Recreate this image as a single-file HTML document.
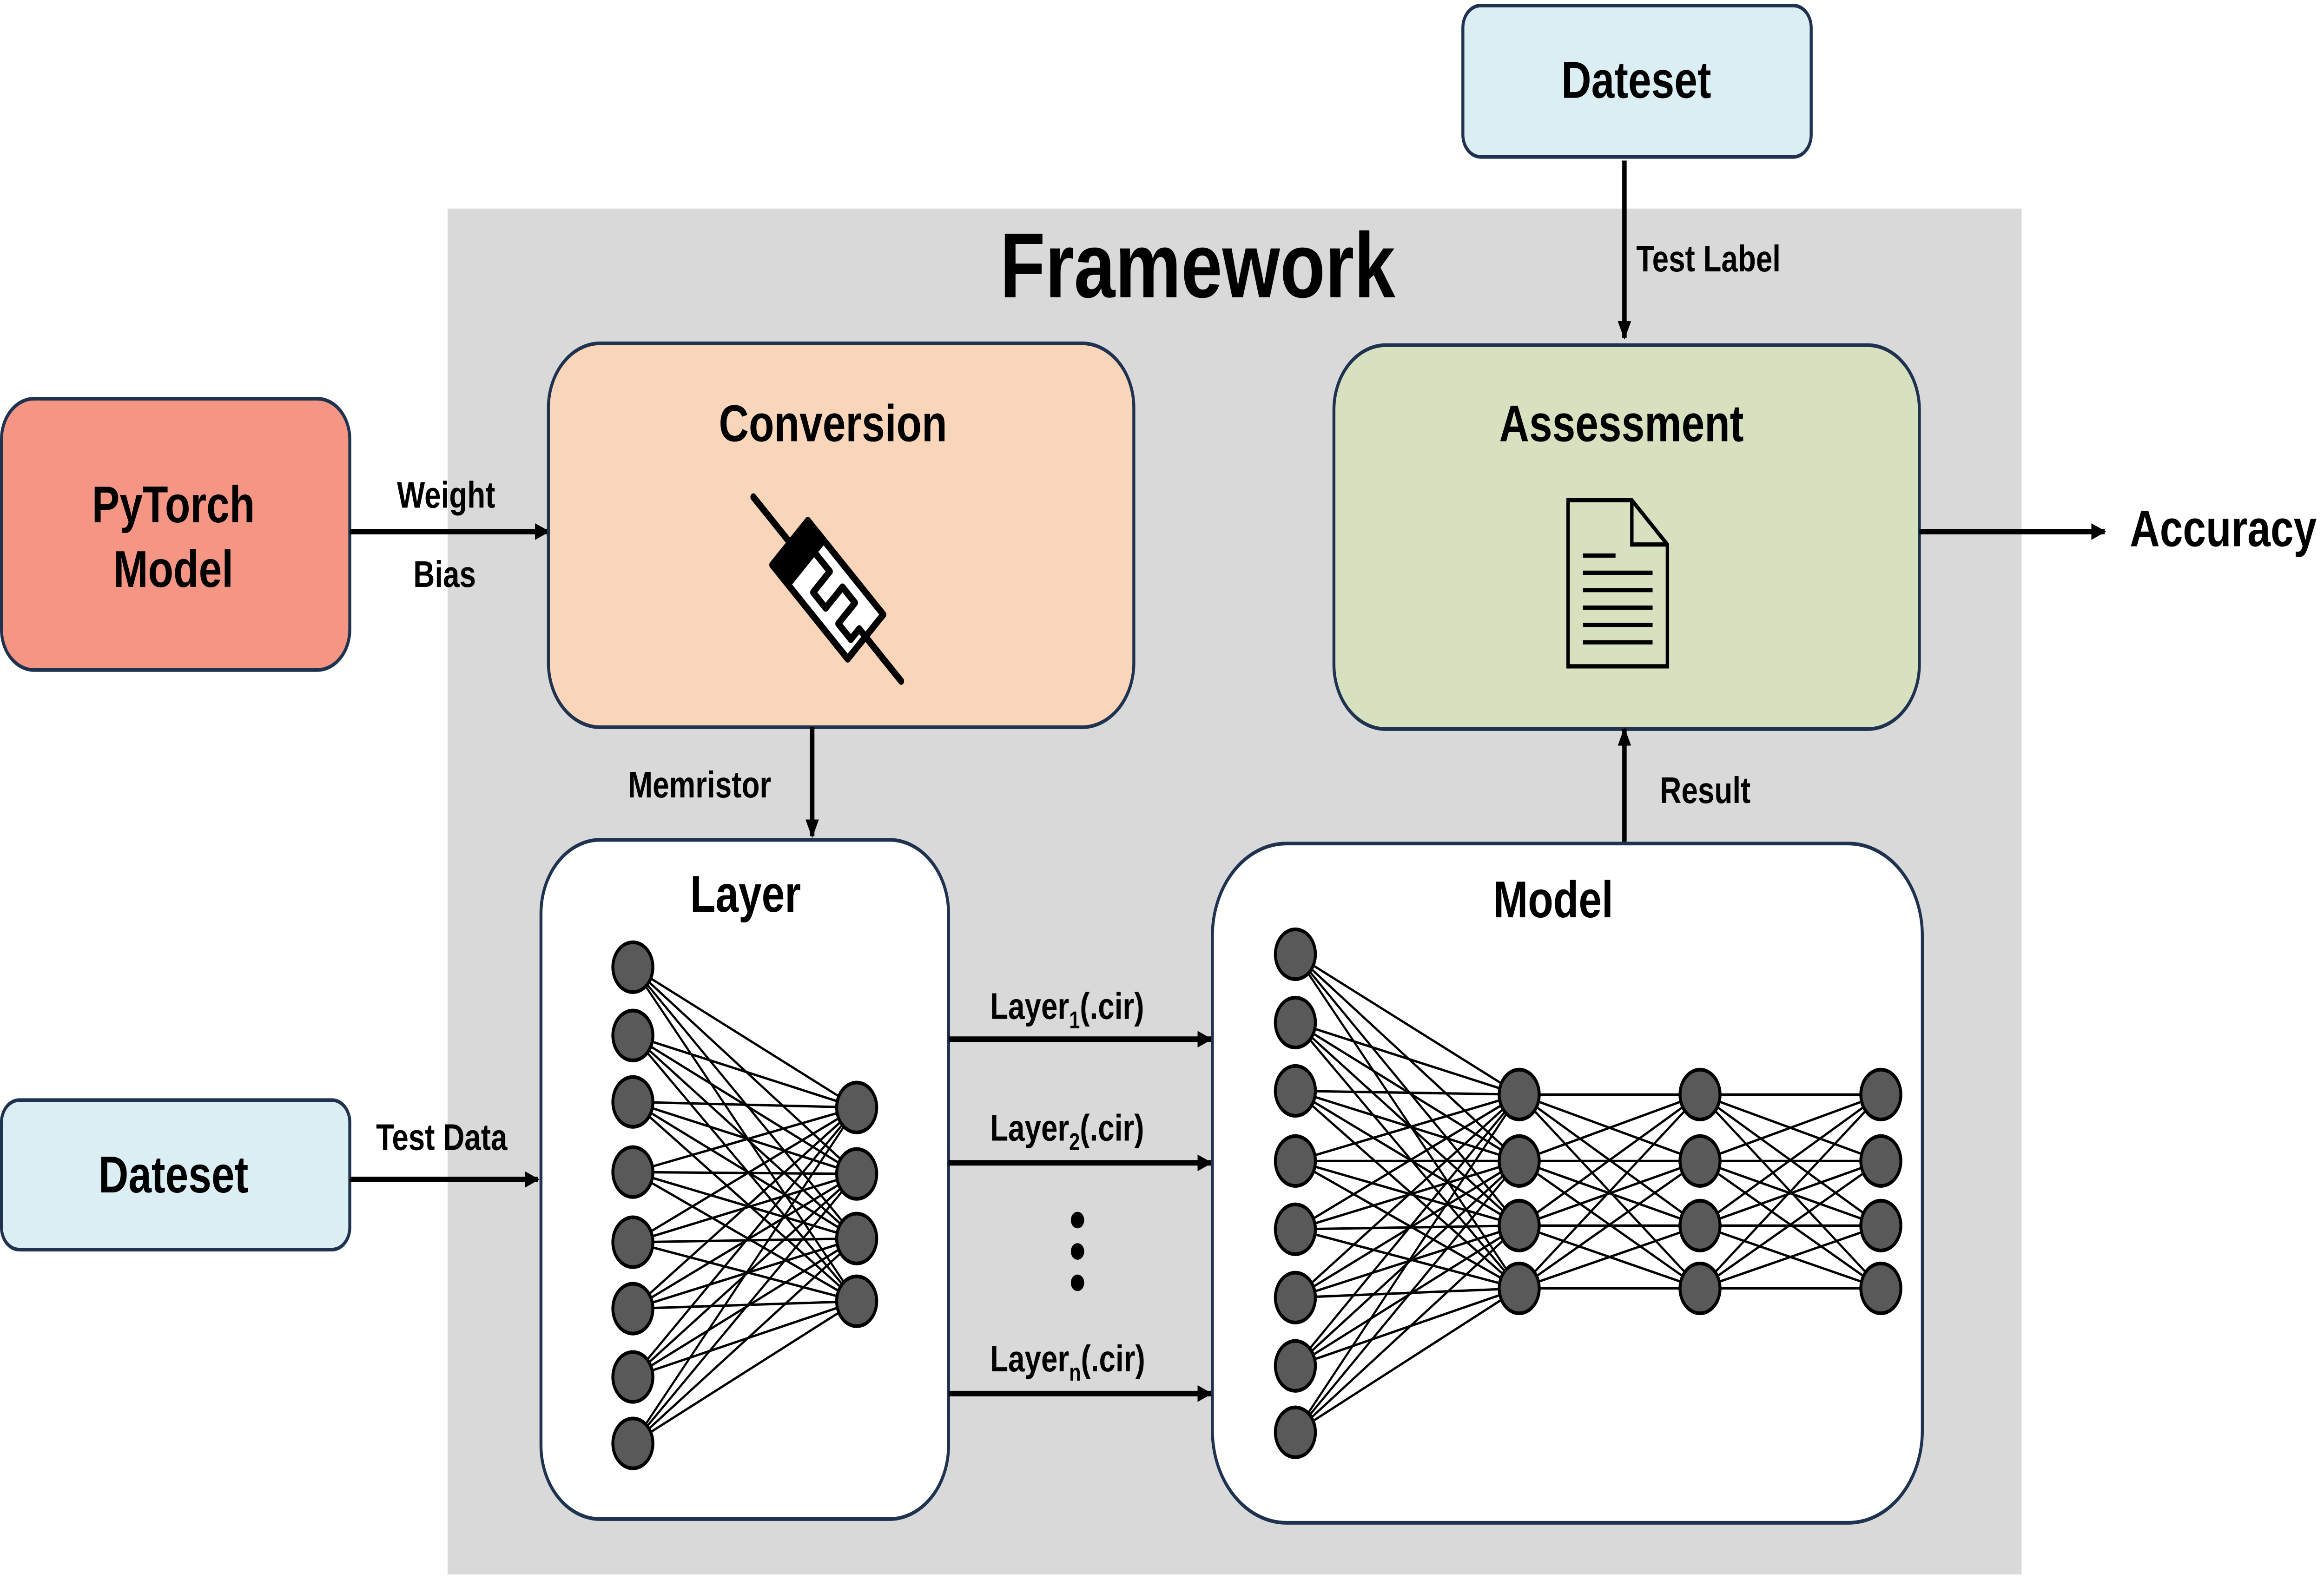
<!DOCTYPE html>
<html><head><meta charset="utf-8"><style>html,body{margin:0;padding:0;background:#fff;width:100%;height:100%;overflow:hidden}svg{display:block;position:absolute;left:0;top:0;width:100vw;height:100vh}</style></head>
<body>
<svg id="s" xmlns="http://www.w3.org/2000/svg" viewBox="0 0 1568 856" preserveAspectRatio="none" font-family="Liberation Sans, Arial, sans-serif" font-weight="bold">
<defs><marker id="b" markerWidth="10" markerHeight="10" refX="9" refY="5" orient="auto" markerUnits="userSpaceOnUse"><path d="M0,0.5 L10,5 L0,9.5 z" fill="#000"/></marker></defs>
<rect width="1568" height="856" fill="#fff"/>
<rect x="302" y="113" width="1062" height="740" fill="#d9d9d9"/>
<text x="808" y="161" font-size="50" text-anchor="middle">Framework</text>

<rect x="987" y="3" width="235" height="82" rx="12" fill="#dbeef3" stroke="#1f3350" stroke-width="2"/>
<text x="1104" y="53" font-size="28" text-anchor="middle">Dateset</text>
<line x1="1096" y1="87" x2="1096" y2="183" stroke="#000" stroke-width="3" marker-end="url(#b)"/>
<text x="1104" y="147" font-size="20">Test Label</text>

<rect x="1" y="216" width="235" height="147" rx="22" fill="#f59685" stroke="#1f3350" stroke-width="2"/>
<text x="117" y="283" font-size="28" text-anchor="middle">PyTorch</text>
<text x="117" y="318" font-size="28" text-anchor="middle">Model</text>
<line x1="236" y1="288" x2="370" y2="288" stroke="#000" stroke-width="3" marker-end="url(#b)"/>
<text x="301" y="275" font-size="20" text-anchor="middle">Weight</text>
<text x="300" y="318" font-size="20" text-anchor="middle">Bias</text>

<rect x="370" y="186" width="395" height="208" rx="35" fill="#f9d5b9" stroke="#1f3350" stroke-width="2"/>
<text x="562" y="239" font-size="28" text-anchor="middle">Conversion</text>
<g transform="translate(558.5,319.5) rotate(45)">
<line x1="-71" y1="0" x2="70" y2="0" stroke="#000" stroke-width="4" stroke-linecap="round"/>
<rect x="-36" y="-17" width="72" height="34" fill="#fff" stroke="#000" stroke-width="4" stroke-linejoin="round"/>
<rect x="-36" y="-17" width="17" height="34" fill="#000"/>
<path d="M-19,-8 H-6 V8 H6 V-8 H18 V8 H30 V0 H36" fill="none" stroke="#000" stroke-width="4" stroke-linejoin="round"/>
</g>
<line x1="548" y1="394" x2="548" y2="453" stroke="#000" stroke-width="3" marker-end="url(#b)"/>
<text x="472" y="432" font-size="20" text-anchor="middle">Memristor</text>

<rect x="900" y="187" width="395" height="208" rx="35" fill="#d7e1bf" stroke="#1f3350" stroke-width="2"/>
<text x="1094" y="239" font-size="28" text-anchor="middle">Assessment</text>
<path d="M1058,271 H1101 L1125,295 V361 H1058 Z" fill="none" stroke="#000" stroke-width="2.3"/>
<path d="M1101,271 V295 H1125" fill="none" stroke="#000" stroke-width="2.3"/>
<g stroke="#000" stroke-width="2.3">
<line x1="1068" y1="301" x2="1090" y2="301"/><line x1="1068" y1="310.3" x2="1115" y2="310.3"/><line x1="1068" y1="319.7" x2="1115" y2="319.7"/><line x1="1068" y1="329.2" x2="1115" y2="329.2"/><line x1="1068" y1="338.5" x2="1115" y2="338.5"/><line x1="1068" y1="348" x2="1115" y2="348"/></g>
<line x1="1295" y1="288" x2="1420" y2="288" stroke="#000" stroke-width="3" marker-end="url(#b)"/>
<text x="1437" y="296" font-size="28">Accuracy</text>
<line x1="1096" y1="456" x2="1096" y2="395" stroke="#000" stroke-width="3" marker-end="url(#b)"/>
<text x="1120" y="435" font-size="20">Result</text>

<rect x="365" y="455" width="275" height="368" rx="40" fill="#fff" stroke="#1f3350" stroke-width="2"/>
<text x="503" y="494" font-size="28" text-anchor="middle">Layer</text>
<g id="lg"></g>

<rect x="1" y="596" width="235" height="81" rx="12" fill="#dbeef3" stroke="#1f3350" stroke-width="2"/>
<text x="117" y="646" font-size="28" text-anchor="middle">Dateset</text>
<line x1="236" y1="639" x2="363" y2="639" stroke="#000" stroke-width="3" marker-end="url(#b)"/>
<text x="298" y="623" font-size="20" text-anchor="middle">Test Data</text>

<g stroke="#000" stroke-width="3">
<line x1="640" y1="563" x2="817" y2="563" marker-end="url(#b)"/>
<line x1="640" y1="630" x2="817" y2="630" marker-end="url(#b)"/>
<line x1="640" y1="755" x2="817" y2="755" marker-end="url(#b)"/></g>
<text x="668" y="552" font-size="20">Layer<tspan font-size="13" dy="5">1</tspan><tspan dy="-5">(.cir)</tspan></text>
<text x="668" y="618" font-size="20">Layer<tspan font-size="13" dy="5">2</tspan><tspan dy="-5">(.cir)</tspan></text>
<text x="668" y="743" font-size="20">Layer<tspan font-size="13" dy="5">n</tspan><tspan dy="-5">(.cir)</tspan></text>
<circle cx="727" cy="661" r="4.5"/><circle cx="727" cy="678" r="4.5"/><circle cx="727" cy="695" r="4.5"/>

<rect x="818" y="457" width="479" height="368" rx="50" fill="#fff" stroke="#1f3350" stroke-width="2"/>
<text x="1048" y="497" font-size="28" text-anchor="middle">Model</text>
<g id="mg"></g>
</svg>
<script>
(function(){
var NS="http://www.w3.org/2000/svg";
function layer(g,cols){
  var lines=document.createElementNS(NS,"g");lines.setAttribute("stroke","#000");lines.setAttribute("stroke-width","1.3");
  var nodes=document.createElementNS(NS,"g");
  for(var c=0;c<cols.length-1;c++){var A=cols[c],B=cols[c+1];
    A.ys.forEach(function(y1){B.ys.forEach(function(y2){var l=document.createElementNS(NS,"line");
      l.setAttribute("x1",A.x);l.setAttribute("y1",y1);l.setAttribute("x2",B.x);l.setAttribute("y2",y2);lines.appendChild(l);});});}
  cols.forEach(function(C){C.ys.forEach(function(y){var ci=document.createElementNS(NS,"circle");
    ci.setAttribute("cx",C.x);ci.setAttribute("cy",y);ci.setAttribute("r","13.5");ci.setAttribute("fill","#595959");ci.setAttribute("stroke","#000");ci.setAttribute("stroke-width","2");nodes.appendChild(ci);});});
  g.appendChild(lines);g.appendChild(nodes);}
var r=[600,636,671,705];
layer(document.getElementById("lg"),[{x:427,ys:[524,561,597,635,673,709,746,782]},{x:578,ys:r}]);
var r2=[593,629,664,698];
layer(document.getElementById("mg"),[{x:874,ys:[517,554,591,629,666,703,740,776]},{x:1025,ys:r2},{x:1147,ys:r2},{x:1269,ys:r2}]);
})();
</script>
</body></html>
